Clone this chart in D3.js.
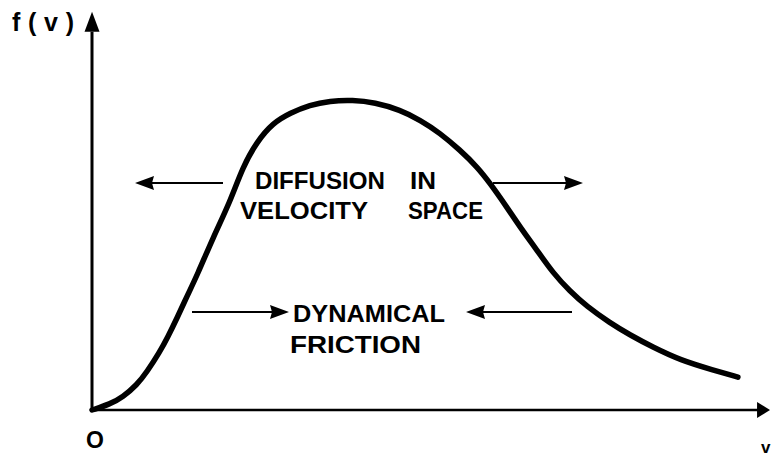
<!DOCTYPE html>
<html>
<head>
<meta charset="utf-8">
<script src="https://cdn.jsdelivr.net/npm/d3@7"></script>
<style>
  html, body { margin: 0; padding: 0; background: #fff; }
  svg { display: block; }
  text { font-family: "Liberation Sans", Arial, sans-serif; font-weight: bold; fill: #000; }
</style>
</head>
<body>
<svg id="chart" width="771" height="456"></svg>
<script>
// velocity (arbitrary units) and distribution f(v) (arbitrary units, peak = 100)
const velocity = [0, 2.7, 4.6, 6.7, 8.2, 10.1, 11.3, 12.7, 14.2, 15.7, 18.1, 20.6, 22.5, 24.6, 27.0, 29.6, 32.5, 35.5, 38.9, 42.2, 46.0, 49.0, 51.9, 54.9, 57.5, 59.4, 61.9, 63.9, 66.4, 68.8, 71.3, 73.8, 77.3, 80.3, 83.7, 87.8, 92.7, 96.4];
const fv       = [0, 1.9, 4.2, 8.1, 12.3, 18.7, 23.5, 29.7, 36.8, 43.5, 55.8, 67.1, 78.4, 86.5, 92.6, 95.8, 98.4, 99.7, 100, 99.2, 96.8, 93.5, 89.4, 83.9, 78.4, 73.2, 65.5, 59.0, 51.6, 44.2, 38.4, 33.5, 28.1, 24.2, 20.3, 16.1, 12.9, 10.6];
const axisLabels = { y: "f ( v )", origin: "O", x: "v" };
const diffusionLines = ["DIFFUSION", "IN", "VELOCITY", "SPACE"];
const frictionLines = ["DYNAMICAL", "FRICTION"];

const svg = d3.select("#chart");
const x = d3.scaleLinear().domain([0, 100]).range([92, 762]);
const y = d3.scaleLinear().domain([0, 100]).range([410, 100]);

// axes
svg.append("line").attr("x1", x(0)).attr("x2", x(99.5)).attr("y1", y(0)).attr("y2", y(0))
  .attr("stroke", "#000").attr("stroke-width", 2.5);
svg.append("line").attr("x1", x(0)).attr("x2", x(0)).attr("y1", y(0)).attr("y2", y(122))
  .attr("stroke", "#000").attr("stroke-width", 3);
// axis arrowheads
const xe = x(101.2), ye = y(0);
svg.append("path").attr("d", `M${xe},${ye} L${xe-13},${ye-8} L${xe-13},${ye+8} Z`).attr("fill", "#000");
const yx = x(0), yt = y(128.5);
svg.append("path").attr("d", `M${yx},${yt} L${yx-7.5},${yt+20} L${yx+7.5},${yt+20} Z`).attr("fill", "#000");

// curve
const pts = velocity.map((v, i) => [v, fv[i]]);
svg.append("path").datum(pts)
  .attr("d", d3.line().x(d => x(d[0])).y(d => y(d[1])).curve(d3.curveBasis))
  .attr("fill", "none").attr("stroke", "#000").attr("stroke-width", 5.5).attr("stroke-linecap", "round");

// arrows helper
function arrow(x1, x2, yy) {
  const dir = Math.sign(x2 - x1);
  svg.append("line").attr("x1", x1).attr("x2", x2 - dir*10).attr("y1", yy).attr("y2", yy)
    .attr("stroke", "#000").attr("stroke-width", 2.2);
  svg.append("path").attr("d", `M${x2},${yy} L${x2 - dir*19},${yy-7} L${x2 - dir*17},${yy} L${x2 - dir*19},${yy+7} Z`).attr("fill", "#000");
}
arrow(223, 135, 183);
arrow(493, 583, 183);
arrow(192, 289, 312);
arrow(572, 466, 312);

// texts
const fs = 23;
function txt(s, xx, yy, size, extra) {
  const t = svg.append("text").attr("x", xx).attr("y", yy).attr("font-size", size || fs).text(s);
  if (extra) extra(t);
  return t;
}
txt(diffusionLines[0], 255, 189, fs, t => t.attr("textLength", 130).attr("lengthAdjust", "spacingAndGlyphs"));
txt(diffusionLines[1], 410, 189, fs, t => t.attr("textLength", 26).attr("lengthAdjust", "spacingAndGlyphs"));
txt(diffusionLines[2], 240, 219, fs, t => t.attr("textLength", 128).attr("lengthAdjust", "spacingAndGlyphs"));
txt(diffusionLines[3], 408, 219, fs, t => t.attr("textLength", 75).attr("lengthAdjust", "spacingAndGlyphs"));
txt(frictionLines[0], 293, 322, fs, t => t.attr("textLength", 152).attr("lengthAdjust", "spacingAndGlyphs"));
txt(frictionLines[1], 290, 353, fs, t => t.attr("textLength", 131).attr("lengthAdjust", "spacingAndGlyphs"));

txt(axisLabels.y, 12, 31, 25, t => t.attr("textLength", 62).attr("lengthAdjust", "spacing"));
txt(axisLabels.origin, 86, 448, 23);
txt(axisLabels.x, 761, 453, 17);
</script>
</body>
</html>
